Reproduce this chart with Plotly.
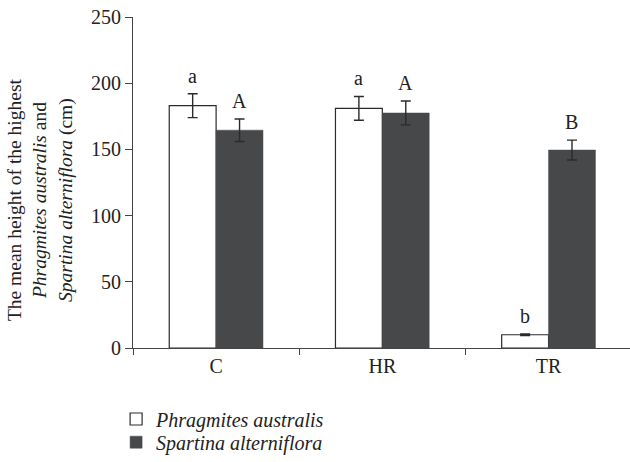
import plotly.graph_objects as go

categories = ["C", "HR", "TR"]
phrag_vals = [183, 181, 10]
phrag_err = [9, 9, 0.6]
spart_vals = [164.5, 177.5, 149.5]
spart_err = [8.5, 9, 7.5]
phrag_letters = ["a", "a", "b"]
spart_letters = ["A", "A", "B"]
y_title = "The mean height of the highest<br><i>Phragmites australis</i> and<br><i>Spartina alterniflora</i> (cm)"

FONT = "Liberation Serif"
DARK = "#47484a"
LINE = "#2b2b2b"
TXT = "#222"
bargap = 0.436

fig = go.Figure()
fig.add_trace(go.Bar(
    x=categories, y=phrag_vals, name="<i>Phragmites australis</i>", legend="legend",
    marker=dict(color="white", line=dict(color=LINE, width=1.2)),
    error_y=dict(type="data", array=phrag_err, color=LINE, thickness=1.4, width=5),
))
fig.add_trace(go.Bar(
    x=categories, y=spart_vals, name="<i>Spartina alterniflora</i>", legend="legend2",
    marker=dict(color=DARK, line=dict(color=DARK, width=0.5)),
    error_y=dict(type="data", array=spart_err, color=LINE, thickness=1.4, width=5),
))

off = (1 - bargap) / 4
for i in range(len(categories)):
    fig.add_annotation(x=i - off, y=phrag_vals[i] + phrag_err[i], text=phrag_letters[i],
                       showarrow=False, yanchor="bottom", yshift=5,
                       font=dict(family=FONT, size=20, color=TXT))
    fig.add_annotation(x=i + off, y=spart_vals[i] + spart_err[i], text=spart_letters[i],
                       showarrow=False, yanchor="bottom", yshift=5,
                       font=dict(family=FONT, size=20, color=TXT))

fig.add_annotation(x=-0.187, y=0.447, xref="paper", yref="paper", text=y_title,
                   textangle=-90, showarrow=False, xanchor="center", yanchor="middle",
                   font=dict(family=FONT, size=19.5, color=TXT))

leg_common = dict(xanchor="left", yanchor="middle",
                  font=dict(family=FONT, size=20, color=TXT),
                  itemwidth=30, bgcolor="rgba(0,0,0,0)")

fig.update_layout(
    width=630, height=462,
    margin=dict(l=133, r=0, t=17, b=114, autoexpand=False),
    paper_bgcolor="white", plot_bgcolor="white",
    barmode="group", bargap=bargap, bargroupgap=0,
    font=dict(family=FONT, size=20, color=TXT),
    showlegend=True,
    legend=dict(x=-0.034, y=-0.2145, **leg_common),
    legend2=dict(x=-0.034, y=-0.2845, **leg_common),
    xaxis=dict(
        range=[-0.5, 2.49], showline=True, linecolor="#444", linewidth=1.2,
        ticks="outside", tickson="boundaries", ticklen=6, tickcolor="#444",
        tickfont=dict(family=FONT, size=20, color=TXT),
        showgrid=False, zeroline=False,
    ),
    yaxis=dict(
        range=[0, 250], tickvals=[0, 50, 100, 150, 200, 250],
        showline=True, linecolor="#444", linewidth=1.2,
        ticks="outside", ticklen=7, tickcolor="#444",
        tickfont=dict(family=FONT, size=20, color=TXT),
        showgrid=False, zeroline=False,
    ),
)

fig.write_html("out.html")
